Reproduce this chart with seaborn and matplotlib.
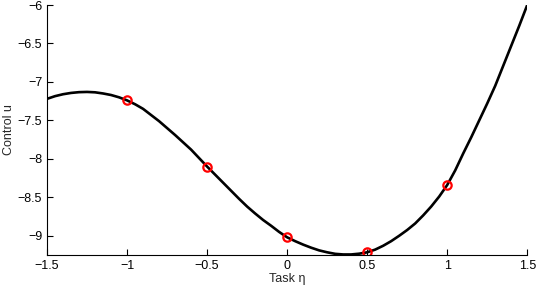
import numpy as np
import pandas as pd
import seaborn as sns
import matplotlib
matplotlib.use("Agg")
import matplotlib.pyplot as plt

# smooth curve, every 0.05
task_eta = [-1.5, -1.45, -1.4, -1.35, -1.3, -1.25, -1.2, -1.15, -1.1, -1.05,
            -1.0, -0.95, -0.9, -0.85, -0.8, -0.75, -0.7, -0.65, -0.6, -0.55,
            -0.5, -0.45, -0.4, -0.35, -0.3, -0.25, -0.2, -0.15, -0.1, -0.05,
            0.0, 0.05, 0.1, 0.15, 0.2, 0.25, 0.3, 0.35, 0.4, 0.45,
            0.5, 0.55, 0.6, 0.65, 0.7, 0.75, 0.8, 0.85, 0.9, 0.95,
            1.0, 1.05, 1.1, 1.15, 1.2, 1.25, 1.3, 1.35, 1.4, 1.45, 1.5]
control_u = [-7.22, -7.185, -7.16, -7.143, -7.133, -7.13, -7.135, -7.15, -7.17, -7.20,
             -7.24, -7.29, -7.35, -7.43, -7.51, -7.60, -7.69, -7.785, -7.88, -7.99,
             -8.10, -8.205, -8.31, -8.415, -8.52, -8.62, -8.71, -8.795, -8.87, -8.95,
             -9.02, -9.07, -9.115, -9.155, -9.19, -9.215, -9.235, -9.243, -9.243, -9.233,
             -9.215, -9.18, -9.13, -9.07, -9.00, -8.925, -8.84, -8.735, -8.62, -8.49,
             -8.34, -8.15, -7.93, -7.72, -7.50, -7.28, -7.05, -6.79, -6.53, -6.27, -6.00]

# sampled points (red circles)
sample_eta = [-1.0, -0.5, 0.0, 0.5, 1.0]
sample_u = [-7.24, -8.10, -9.02, -9.215, -8.34]

x_ticks = [-1.5, -1, -0.5, 0, 0.5, 1, 1.5]
y_ticks = [-9, -8.5, -8, -7.5, -7, -6.5, -6]

sns.set_style("ticks")
plt.rcParams['font.family'] = ['Liberation Sans', 'DejaVu Sans']
plt.rcParams['xtick.direction'] = 'in'
plt.rcParams['ytick.direction'] = 'in'

curve = pd.DataFrame({"eta": task_eta, "u": control_u})
samples = pd.DataFrame({"eta": sample_eta, "u": sample_u})

fig = plt.figure(figsize=(5.38, 2.88), dpi=100)
ax = fig.add_axes([0.0874, 0.1146, 0.8926, 0.868])

sns.lineplot(data=curve, x="eta", y="u", color="black", linewidth=1.9, ax=ax)
sns.lineplot(data=samples, x="eta", y="u", ax=ax, linestyle="", marker="o",
             markersize=6, markerfacecolor="none", markeredgecolor="red",
             markeredgewidth=1.6)

ax.set_xlim(-1.5, 1.5)
ax.set_ylim(-9.25, -6)
ax.set_xticks(x_ticks)
ax.set_xticklabels([f"{t:g}".replace("-", "\u2212") for t in x_ticks])
ax.set_yticks(y_ticks)
ax.set_yticklabels([f"{t:g}".replace("-", "\u2212") for t in y_ticks])
ax.tick_params(labelsize=9, length=4, width=0.8, colors="black")
for side in ["left", "bottom"]:
    ax.spines[side].set_linewidth(0.8)
    ax.spines[side].set_color("black")
sns.despine(ax=ax)

ax.set_xlabel("Task η", fontsize=9, labelpad=1)
ax.set_ylabel("Control u", fontsize=9, labelpad=2)

fig.savefig("out.png", dpi=100)
